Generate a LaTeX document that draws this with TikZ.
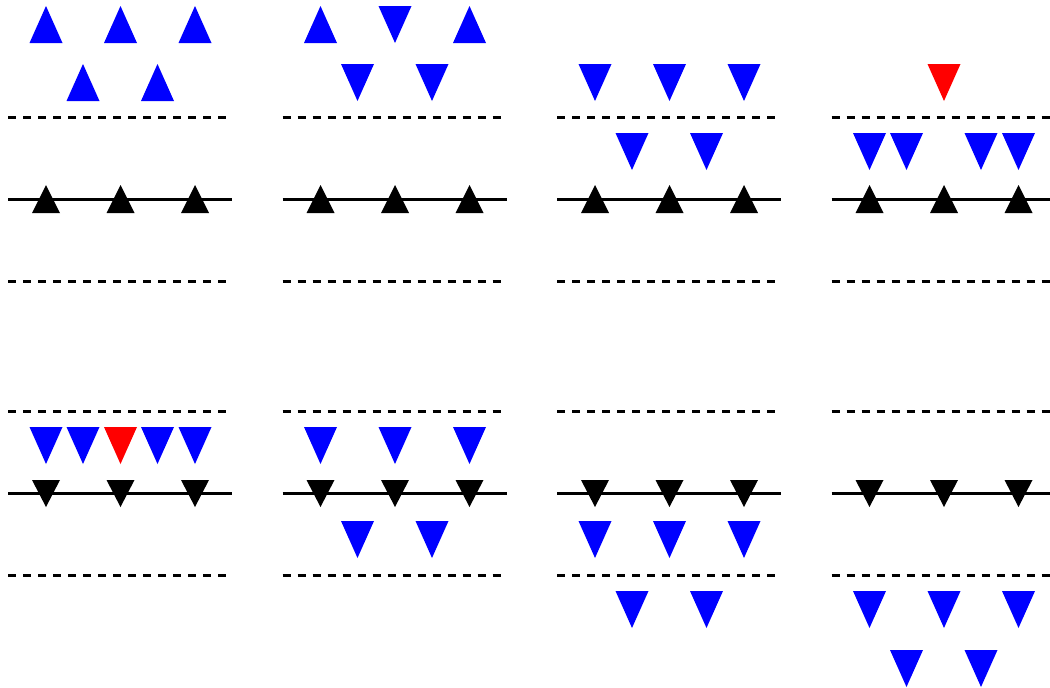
\documentclass[tikz,border=0pt]{standalone}
\usetikzlibrary{positioning}

\begin{document}
\begin{tikzpicture}[
    x=1pt, y=-1pt,
    guide/.style={line width=2.2pt, dash pattern=on 8.3pt off 6.7pt},
    wire/.style={line width=2.2pt},
    upblue/.pic={\fill[blue] (-16.5,18.5) -- (16.5,18.5) -- (0,-18.5) -- cycle;},
    dnblue/.pic={\fill[blue] (-16.5,-18.5) -- (16.5,-18.5) -- (0,18.5) -- cycle;},
    dnred/.pic={\fill[red] (-16.5,-18.5) -- (16.5,-18.5) -- (0,18.5) -- cycle;},
    upblack/.pic={\fill[black] (-14,14) -- (14,14) -- (0,-14) -- cycle;},
    dnblack/.pic={\fill[black] (-14,-13.5) -- (14,-13.5) -- (0,13.5) -- cycle;}
]
    \useasboundingbox (0,0) rectangle (1050,688);

    % Top row of panels
    \foreach \dx in {0,274.5,549,823.5} {
        \begin{scope}[xshift=\dx pt]
            \draw[guide] (8,117.5) -- (227,117.5);
            \draw[wire] (8,199.5) -- (232,199.5);
            \draw[guide] (8,281.5) -- (227,281.5);
            \pic at (46,199) {upblack};
            \pic at (120.5,199) {upblack};
            \pic at (195,199) {upblack};
        \end{scope}
    }

    % Bottom row of panels
    \foreach \dx in {0,274.5,549,823.5} {
        \begin{scope}[xshift=\dx pt]
            \draw[guide] (8,411.5) -- (227,411.5);
            \draw[wire] (8,493.5) -- (232,493.5);
            \draw[guide] (8,575.5) -- (227,575.5);
            \pic at (46,493.5) {dnblack};
            \pic at (120.5,493.5) {dnblack};
            \pic at (195,493.5) {dnblack};
        \end{scope}
    }

    % Panel 1
    \pic at (46,24.5) {upblue};
    \pic at (120.5,24.5) {upblue};
    \pic at (195,24.5) {upblue};
    \pic at (83,82.5) {upblue};
    \pic at (157.5,82.5) {upblue};

    % Panel 2
    \begin{scope}[xshift=274.5pt]
        \pic at (46,24.5) {upblue};
        \pic at (120.5,24.5) {dnblue};
        \pic at (195,24.5) {upblue};
        \pic at (83,82.5) {dnblue};
        \pic at (157.5,82.5) {dnblue};
    \end{scope}

    % Panel 3
    \begin{scope}[xshift=549pt]
        \pic at (46,82.5) {dnblue};
        \pic at (120.5,82.5) {dnblue};
        \pic at (195,82.5) {dnblue};
        \pic at (83,151.5) {dnblue};
        \pic at (157.5,151.5) {dnblue};
    \end{scope}

    % Panel 4
    \begin{scope}[xshift=823.5pt]
        \pic at (120.5,82.5) {dnred};
        \pic at (46,151.5) {dnblue};
        \pic at (83,151.5) {dnblue};
        \pic at (157.5,151.5) {dnblue};
        \pic at (195,151.5) {dnblue};
    \end{scope}

    % Panel 5
    \pic at (46,445.5) {dnblue};
    \pic at (83,445.5) {dnblue};
    \pic at (120.5,445.5) {dnred};
    \pic at (157.5,445.5) {dnblue};
    \pic at (195,445.5) {dnblue};

    % Panel 6
    \begin{scope}[xshift=274.5pt]
        \pic at (46,445.5) {dnblue};
        \pic at (120.5,445.5) {dnblue};
        \pic at (195,445.5) {dnblue};
        \pic at (83,539.5) {dnblue};
        \pic at (157.5,539.5) {dnblue};
    \end{scope}

    % Panel 7
    \begin{scope}[xshift=549pt]
        \pic at (46,539.5) {dnblue};
        \pic at (120.5,539.5) {dnblue};
        \pic at (195,539.5) {dnblue};
        \pic at (83,609.5) {dnblue};
        \pic at (157.5,609.5) {dnblue};
    \end{scope}

    % Panel 8
    \begin{scope}[xshift=823.5pt]
        \pic at (46,609.5) {dnblue};
        \pic at (120.5,609.5) {dnblue};
        \pic at (195,609.5) {dnblue};
        \pic at (83,668.5) {dnblue};
        \pic at (157.5,668.5) {dnblue};
    \end{scope}

\end{tikzpicture}
\end{document}
